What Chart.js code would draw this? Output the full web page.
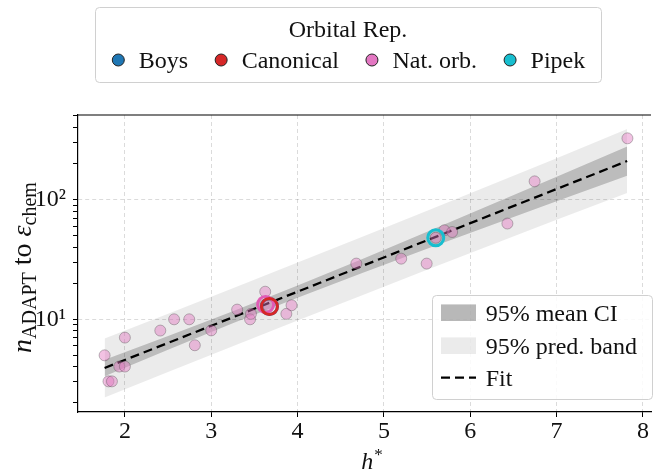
<!DOCTYPE html>
<html>
<head>
<meta charset="utf-8">
<script src="https://cdn.jsdelivr.net/npm/chart.js@4.4.0/dist/chart.umd.min.js"></script>
<style>
  html, body { margin: 0; padding: 0; background: #fff; }
</style>
</head>
<body>
<canvas id="chart" width="662" height="472"></canvas>
<script>
// individual runs (small pink markers)
const pointX = [1.765, 1.81, 1.85, 1.935, 2.0, 2.0, 2.41, 2.57, 2.745, 2.81, 3.0, 3.30, 3.45, 3.46,
                3.625, 3.66, 3.87, 3.93, 4.68, 5.20, 5.495, 5.60, 5.70, 5.79, 6.43, 6.745, 7.82];
const pointY = [5.0, 3.03, 3.03, 4.03, 4.03, 7.03, 8.05, 10.0, 10.0, 6.07, 8.08, 12.05, 10.0, 11.1,
                17.0, 13.0, 11.1, 13.1, 29.2, 32.1, 29.2, 48.0, 55.4, 53.6, 63.1, 142, 325];

// one representative per orbital representation (open rings)
const repLabels = ['Boys', 'Canonical', 'Nat. orb.', 'Pipek'];
const repColors = ['#1f77b4', '#d62728', '#e377c2', '#17becf'];
const repRingColors = ['#1f77b4', '#d62728', '#e05cb6', '#17becf'];
const repX = [3.674, 3.674, 3.63, 5.60];
const repY = [12.8, 12.8, 13.3, 48.0];

// fit line and bands
const bandX     = [1.765, 2.5, 3.25, 4.0, 4.75, 5.5, 6.25, 7.0, 7.817];
const fitY      = [3.92, 6.35, 10.4, 17.0, 27.9, 45.7, 74.9, 122.6, 210];
const ciUpper   = [4.60, 7.26, 11.7, 19.2, 31.9, 53.8, 91.3, 155.4, 278];
const ciLower   = [3.34, 5.56, 9.25, 15.15, 24.4, 38.8, 61.4, 96.7, 158.4];
const predUpper = [6.91, 11.13, 18.16, 29.8, 48.9, 80.7, 133.7, 222, 388];
const predLower = [2.22, 3.63, 5.96, 9.76, 15.9, 25.9, 41.9, 67.7, 113.6];

// ticks
const xTicks = [2, 3, 4, 5, 6, 7, 8];
const yTicks = [2, 3, 4, 5, 6, 7, 8, 9, 10, 20, 30, 40, 50, 60, 70, 80, 90, 100, 200, 300, 400, 500];
const yMajor = [10, 100];
const yMajorLabels = ['10\u00B9', '10\u00B2'];

const bandLabels = ['95% mean CI', '95% pred. band', 'Fit'];

const FONT = '"Liberation Serif", "Times New Roman", serif';

const pts = (xs, ys) => xs.map((x, i) => ({ x: x, y: ys[i] }));

const datasets = [];
// rings on top (lower order = drawn later)
const ringOrder = [3, 1, 2, 0];
repLabels.forEach((lab, i) => {
    datasets.push({
        label: lab,
        data: [{ x: repX[i], y: repY[i] }],
        pointRadius: 8,
        pointBackgroundColor: 'rgba(0,0,0,0)',
        pointBorderColor: repRingColors[i],
        pointBorderWidth: 3,
        order: ringOrder[i]
    });
});
datasets.push({
    label: 'runs',
    data: pts(pointX, pointY),
    pointRadius: 5.5,
    pointBackgroundColor: 'rgba(227,119,194,0.45)',
    pointBorderColor: 'rgba(70,70,70,0.45)',
    pointBorderWidth: 0.8,
    order: 5
});
datasets.push({
    label: 'Fit',
    data: pts(bandX, fitY),
    showLine: true,
    borderColor: '#000',
    borderWidth: 2.3,
    borderDash: [9, 5],
    pointRadius: 0,
    fill: false,
    order: 6
});
datasets.push({
    label: 'ci-up',
    data: pts(bandX, ciUpper),
    showLine: true, borderWidth: 0, pointRadius: 0,
    backgroundColor: 'rgba(0,0,0,0.2)',
    fill: '+1',
    order: 7
});
datasets.push({
    label: 'ci-low',
    data: pts(bandX, ciLower),
    showLine: true, borderWidth: 0, pointRadius: 0,
    fill: false,
    order: 8
});
datasets.push({
    label: 'pred-up',
    data: pts(bandX, predUpper),
    showLine: true, borderWidth: 0, pointRadius: 0,
    backgroundColor: 'rgba(0,0,0,0.08)',
    fill: '+1',
    order: 9
});
datasets.push({
    label: 'pred-low',
    data: pts(bandX, predLower),
    showLine: true, borderWidth: 0, pointRadius: 0,
    fill: false,
    order: 10
});

function drawRoundBox(ctx, x, y, w, h, r) {
    ctx.beginPath();
    ctx.moveTo(x + r, y);
    ctx.lineTo(x + w - r, y);
    ctx.quadraticCurveTo(x + w, y, x + w, y + r);
    ctx.lineTo(x + w, y + h - r);
    ctx.quadraticCurveTo(x + w, y + h, x + w - r, y + h);
    ctx.lineTo(x + r, y + h);
    ctx.quadraticCurveTo(x, y + h, x, y + h - r);
    ctx.lineTo(x, y + r);
    ctx.quadraticCurveTo(x, y, x + r, y);
    ctx.closePath();
    ctx.fillStyle = 'rgba(255,255,255,0.85)';
    ctx.fill();
    ctx.strokeStyle = '#d0d0d0';
    ctx.lineWidth = 1;
    ctx.stroke();
}

// spine, legends and axis titles
const decorations = {
    id: 'decorations',
    afterDraw(chart) {
        const ctx = chart.ctx;
        const area = chart.chartArea;
        ctx.save();

        // top spine
        ctx.strokeStyle = '#000';
        ctx.lineWidth = 1.2;
        ctx.beginPath();
        ctx.moveTo(area.left, area.top);
        ctx.lineTo(area.right, area.top);
        ctx.stroke();

        ctx.fillStyle = '#111';
        ctx.textBaseline = 'alphabetic';

        // top legend
        drawRoundBox(ctx, 95.5, 7.5, 506, 75, 4);
        ctx.fillStyle = '#111';
        ctx.font = '24px ' + FONT;
        ctx.textAlign = 'center';
        ctx.fillText('Orbital Rep.', 348, 37);
        ctx.textAlign = 'left';
        let cx = 118.3;
        repLabels.forEach((lab, i) => {
            ctx.beginPath();
            ctx.arc(cx, 60, 6, 0, Math.PI * 2);
            ctx.fillStyle = repColors[i];
            ctx.fill();
            ctx.strokeStyle = '#222';
            ctx.lineWidth = 1;
            ctx.stroke();
            ctx.fillStyle = '#111';
            const tx = cx + 20.5;
            ctx.fillText(lab, tx, 68);
            cx = tx + ctx.measureText(lab).width + 33;
        });

        // inner legend
        drawRoundBox(ctx, 432.5, 295.5, 220, 104, 4);
        const rows = [312.7, 345.7, 377.7];
        ctx.fillStyle = 'rgba(0,0,0,0.28)';
        ctx.fillRect(441, rows[0] - 8.3, 35, 16.6);
        ctx.fillStyle = 'rgba(0,0,0,0.08)';
        ctx.fillRect(441, rows[1] - 8.3, 35, 16.6);
        ctx.strokeStyle = '#000';
        ctx.lineWidth = 2.3;
        ctx.setLineDash([9, 5]);
        ctx.beginPath();
        ctx.moveTo(441, rows[2]);
        ctx.lineTo(476, rows[2]);
        ctx.stroke();
        ctx.setLineDash([]);
        ctx.fillStyle = '#111';
        ctx.font = '24px ' + FONT;
        bandLabels.forEach((lab, i) => ctx.fillText(lab, 485.7, rows[i] + 8));

        // x title: h*
        ctx.font = 'italic 24px ' + FONT;
        const hw = ctx.measureText('h').width;
        ctx.font = '17px ' + FONT;
        const sw = ctx.measureText('*').width;
        let xs = 372 - (hw + sw + 1) / 2;
        ctx.font = 'italic 24px ' + FONT;
        ctx.fillText('h', xs, 469);
        ctx.font = '17px ' + FONT;
        ctx.fillText('*', xs + hw + 1, 460);

        // y title: n_ADAPT to eps_chem
        const parts = [
            { t: 'n', f: 'italic 28px ' + FONT, dy: 0 },
            { t: 'ADAPT', f: '20px ' + FONT, dy: 5 },
            { t: ' to ', f: '28px ' + FONT, dy: 0 },
            { t: '\u03B5', f: 'italic 28px ' + FONT, dy: 0 },
            { t: 'chem', f: '20px ' + FONT, dy: 5 }
        ];
        let total = 0;
        parts.forEach(p => { ctx.font = p.f; p.w = ctx.measureText(p.t).width; total += p.w; });
        ctx.translate(31, (area.top + area.bottom) / 2 + 4);
        ctx.rotate(-Math.PI / 2);
        let px = -total / 2;
        parts.forEach(p => {
            ctx.font = p.f;
            ctx.fillText(p.t, px, p.dy);
            px += p.w;
        });

        ctx.restore();
    }
};

new Chart(document.getElementById('chart'), {
    type: 'scatter',
    data: { datasets: datasets },
    options: {
        responsive: false,
        animation: false,
        events: [],
        layout: { padding: { top: 115, left: 0, right: 0, bottom: 0 } },
        plugins: {
            legend: { display: false },
            tooltip: { enabled: false }
        },
        scales: {
            x: {
                type: 'linear',
                min: 1.457,
                max: 8.093,
                bounds: 'data',
                afterBuildTicks: scale => { scale.ticks = xTicks.map(v => ({ value: v })); },
                afterFit: scale => { scale.height = 60; },
                ticks: {
                    font: { family: FONT, size: 24 },
                    color: '#111',
                    padding: 0,
                    maxRotation: 0,
                    autoSkip: false,
                    callback: v => String(v)
                },
                grid: {
                    color: 'rgba(0,0,0,0.14)',
                    lineWidth: 1,
                    tickColor: '#000',
                    tickLength: 5,
                    tickWidth: 1
                },
                border: { display: true, color: '#000', width: 1.2, dash: [4, 3] }
            },
            y: {
                type: 'logarithmic',
                min: 1.681,
                max: 509,
                bounds: 'data',
                afterBuildTicks: scale => { scale.ticks = yTicks.map(v => ({ value: v, major: yMajor.includes(v) })); },
                afterFit: scale => { scale.width = 78; },
                ticks: {
                    font: { family: FONT, size: 24 },
                    color: '#111',
                    padding: 7,
                    autoSkip: false,
                    callback: v => {
                        const k = yMajor.indexOf(v);
                        return k >= 0 ? yMajorLabels[k] : '';
                    }
                },
                grid: {
                    color: ctx => (ctx.tick && yMajor.includes(ctx.tick.value)) ? 'rgba(0,0,0,0.14)' : 'rgba(0,0,0,0)',
                    lineWidth: 1,
                    tickColor: '#000',
                    tickLength: 5,
                    tickWidth: 1
                },
                border: { display: true, color: '#000', width: 1.2, dash: [4, 3] }
            }
        }
    },
    plugins: [decorations]
});
</script>
</body>
</html>
